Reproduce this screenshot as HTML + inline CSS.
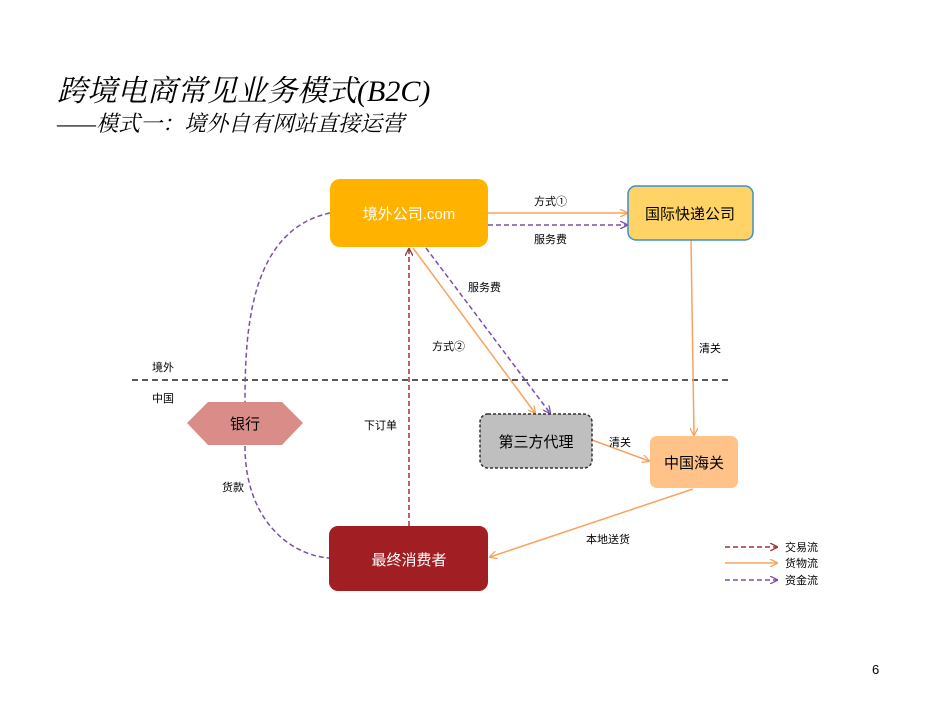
<!DOCTYPE html>
<html><head><meta charset="utf-8"><style>
body{margin:0;background:#fff;}
svg text{font-family:"Liberation Sans","Noto Sans CJK SC",sans-serif;}
</style></head><body>
<svg width="950" height="700" xmlns="http://www.w3.org/2000/svg">
<defs>
<marker id="ao" markerWidth="8" markerHeight="8" refX="7" refY="4" orient="auto" markerUnits="userSpaceOnUse"><path d="M0,0 L8,4 L0,8" fill="none" stroke="#F7A35C" stroke-width="1.3"/></marker>
<marker id="ap" markerWidth="8" markerHeight="8" refX="7" refY="4" orient="auto" markerUnits="userSpaceOnUse"><path d="M0,0 L8,4 L0,8" fill="none" stroke="#7B4FA8" stroke-width="1.3"/></marker>
<marker id="ar" markerWidth="8" markerHeight="8" refX="7" refY="4" orient="auto" markerUnits="userSpaceOnUse"><path d="M0,0 L8,4 L0,8" fill="none" stroke="#A0343A" stroke-width="1.3"/></marker>
</defs>
<text x="57" y="101" font-size="30" font-style="italic" style="font-family:'Liberation Serif','Noto Serif CJK SC',serif">跨境电商常见业务模式(B2C)</text>
<text x="57" y="131" font-size="22" font-style="italic" style="font-family:'Liberation Serif','Noto Serif CJK SC',serif">——模式一：境外自有网站直接运营</text>

<line x1="132" y1="380" x2="728" y2="380" stroke="#222" stroke-width="1.5" stroke-dasharray="6,4"/>
<text x="152" y="371" font-size="11">境外</text>
<text x="152" y="402" font-size="11">中国</text>

<!-- connectors -->
<line x1="488" y1="213" x2="627" y2="213" stroke="#F7A35C" stroke-width="1.5" marker-end="url(#ao)"/>
<line x1="488" y1="225" x2="627" y2="225" stroke="#7B4FA8" stroke-width="1.5" stroke-dasharray="5,3" marker-end="url(#ap)"/>
<text x="534" y="205" font-size="11">方式①</text>
<text x="534" y="243" font-size="11">服务费</text>
<line x1="413" y1="248" x2="535" y2="413" stroke="#F7A35C" stroke-width="1.5" marker-end="url(#ao)"/>
<line x1="426" y1="248" x2="550" y2="413" stroke="#7B4FA8" stroke-width="1.5" stroke-dasharray="5,3" marker-end="url(#ap)"/>
<text x="468" y="291" font-size="11">服务费</text>
<text x="432" y="350" font-size="11">方式②</text>
<line x1="409" y1="526" x2="409" y2="249" stroke="#A0343A" stroke-width="1.5" stroke-dasharray="5,3" marker-end="url(#ar)"/>
<text x="364" y="429" font-size="11">下订单</text>
<line x1="691" y1="240" x2="694" y2="435" stroke="#F7A35C" stroke-width="1.5" marker-end="url(#ao)"/>
<text x="699" y="352" font-size="11">清关</text>
<line x1="592" y1="440" x2="649" y2="461" stroke="#F7A35C" stroke-width="1.5" marker-end="url(#ao)"/>
<text x="609" y="446" font-size="11">清关</text>
<line x1="693" y1="489" x2="490" y2="557" stroke="#F7A35C" stroke-width="1.5" marker-end="url(#ao)"/>
<text x="586" y="543" font-size="11">本地送货</text>
<path d="M330,213 C250,230 245,330 245,402" fill="none" stroke="#7B4FA8" stroke-width="1.5" stroke-dasharray="5,3"/>
<path d="M245,446 C245,520 290,555 329,558" fill="none" stroke="#7B4FA8" stroke-width="1.5" stroke-dasharray="5,3"/>
<text x="222" y="491" font-size="11">货款</text>

<!-- nodes -->
<rect x="330" y="179" width="158" height="68" rx="10" fill="#FFB300"/>
<text x="409" y="219" font-size="15" fill="#fff" text-anchor="middle">境外公司.com</text>
<rect x="628" y="186" width="125" height="54" rx="8" fill="#FFD366" stroke="#3A8FD0" stroke-width="1.5"/>
<text x="690" y="219" font-size="15" text-anchor="middle">国际快递公司</text>
<rect x="480" y="414" width="112" height="54" rx="8" fill="#BFBFBF" stroke="#333" stroke-width="1.5" stroke-dasharray="3,2"/>
<text x="536" y="447" font-size="15" text-anchor="middle">第三方代理</text>
<rect x="650" y="436" width="88" height="52" rx="7" fill="#FFC288"/>
<text x="694" y="468" font-size="15" text-anchor="middle">中国海关</text>
<rect x="329" y="526" width="159" height="65" rx="9" fill="#A11F22"/>
<text x="409" y="565" font-size="15" fill="#fff" text-anchor="middle">最终消费者</text>
<polygon points="187,423 208,402 282,402 303,423 282,445 208,445" fill="#D98C88"/>
<text x="245" y="429" font-size="15" text-anchor="middle">银行</text>

<!-- legend -->
<line x1="725" y1="547" x2="777" y2="547" stroke="#A0343A" stroke-width="1.5" stroke-dasharray="5,3" marker-end="url(#ar)"/>
<line x1="725" y1="563" x2="777" y2="563" stroke="#F7A35C" stroke-width="1.5" marker-end="url(#ao)"/>
<line x1="725" y1="580" x2="777" y2="580" stroke="#7B4FA8" stroke-width="1.5" stroke-dasharray="5,3" marker-end="url(#ap)"/>
<text x="785" y="551" font-size="11">交易流</text>
<text x="785" y="567" font-size="11">货物流</text>
<text x="785" y="584" font-size="11">资金流</text>
<text x="872" y="674" font-size="13">6</text>
</svg>
</body></html>
